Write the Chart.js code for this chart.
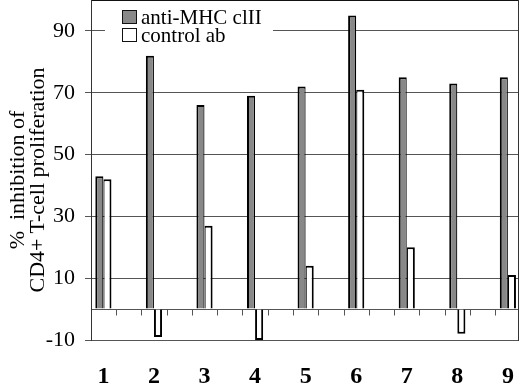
<!DOCTYPE html>
<html><head><meta charset="utf-8">
<script src="https://cdn.jsdelivr.net/npm/chart.js@4"></script>
<style>
html,body{margin:0;padding:0;background:#fff;}
#wrap{position:relative;width:520px;height:383px;overflow:hidden;}
canvas{position:absolute;left:0;top:0;}
#ytitle{position:absolute;left:-93px;top:160px;width:240px;height:40px;transform:rotate(-90deg);transform-origin:120px 20px;
  font-family:"Liberation Serif","Times New Roman",serif;font-size:22px;line-height:20px;text-align:center;color:#000;white-space:pre;}
#legend{position:absolute;left:105px;top:3px;width:168px;height:43px;background:#fff;font-family:"Liberation Serif","Times New Roman",serif;font-size:21px;line-height:21px;color:#000;}
.sw{position:absolute;width:15px;height:14px;box-sizing:border-box;border:1px solid #111;}
.lt{position:absolute;white-space:nowrap;}
</style></head><body>
<div id="wrap">
<canvas id="c" width="520" height="383"></canvas>
<div id="ytitle"></div>
<div id="legend"></div>
</div>
<script>
// ---- data ----
const categories = [1, 2, 3, 4, 5, 6, 7, 8, 9];
const categoryLabels = ['1', '2', '3', '4', '5', '6', '7', '8', '9'];
const antiMHC = [43, 82, 66, 69, 72, 95, 75, 73, 75];
const controlAb = [42, -9, 27, -10, 14, 71, 20, -8, 11];
const seriesNames = ['anti-MHC clII', 'control ab'];
const yTickValues = [-10, 0, 10, 30, 50, 70, 90, 100];
const yLabelValues = [-10, 10, 30, 50, 70, 90];
const zeroLineTicks = [1.25, 1.75, 2.25, 2.75, 3.25, 3.75, 4.25, 4.75, 5.25, 5.75, 6.25, 6.75, 7.25, 7.75, 8.25, 8.75];
const yTitleLines = ['%  inhibition of', 'CD4+ T-cell proliferation'];

const seriesColors = ['#888888', '#ffffff'];

document.getElementById('ytitle').textContent = yTitleLines.join('\n');
const lg = document.getElementById('legend');
seriesNames.forEach((n, i) => {
  const sw = document.createElement('div');
  sw.className = 'sw';
  sw.style.left = (122 - 105) + 'px';
  sw.style.top = (7 + i * 18) + 'px';
  sw.style.background = seriesColors[i];
  lg.appendChild(sw);
  const t = document.createElement('div');
  t.className = 'lt';
  t.style.left = (141 - 105) + 'px';
  t.style.top = (3.5 + i * 18) + 'px';
  t.textContent = n;
  lg.appendChild(t);
});

const zeroTicksPlugin = {
  id: 'zeroTicks',
  afterDatasetsDraw(chart) {
    const {ctx, scales: {x, y}} = chart;
    const y0 = Math.round(y.getPixelForValue(0)) + 0.5;
    ctx.save();
    ctx.strokeStyle = '#555';
    ctx.lineWidth = 1;
    ctx.beginPath();
    zeroLineTicks.forEach(v => {
      const px = Math.round(x.getPixelForValue(v)) + 0.5;
      ctx.moveTo(px, y0);
      ctx.lineTo(px, y0 + 6);
    });
    ctx.stroke();
    ctx.restore();
  }
};

const serif = "'Liberation Serif', 'Times New Roman', serif";

new Chart(document.getElementById('c'), {
  type: 'bar',
  data: {
    datasets: [
      {
        label: seriesNames[0],
        data: categories.map((c, i) => ({x: c, y: antiMHC[i]})),
        backgroundColor: seriesColors[0],
        borderColor: '#000',
        borderWidth: {top: 2, left: 2, right: 1.2, bottom: 0},
        categoryPercentage: 0.32,
        barPercentage: 1
      },
      {
        label: seriesNames[1],
        data: categories.map((c, i) => ({x: c, y: controlAb[i]})),
        backgroundColor: seriesColors[1],
        borderColor: '#000',
        borderWidth: (ctx) => (ctx.parsed && ctx.parsed.y < 0)
          ? {top: 0, left: 2, right: 2, bottom: 2}
          : {top: 2, left: 1.2, right: 2, bottom: 0},
        categoryPercentage: 0.32,
        barPercentage: 1
      }
    ]
  },
  options: {
    responsive: false,
    animation: false,
    devicePixelRatio: 1,
    layout: {padding: {left: 0, right: 1.5, top: 0, bottom: 0}},
    plugins: {legend: {display: false}, tooltip: {enabled: false}},
    scales: {
      x: {
        type: 'linear',
        min: 0.755,
        max: 9.21,
        offset: false,
        afterBuildTicks: (s) => { s.ticks = categories.map(v => ({value: v})); },
        afterFit: (s) => { s.height = 43; s.paddingLeft = 0; s.paddingRight = 0; },
        grid: {display: false, drawTicks: false, offset: false},
        border: {display: true, color: '#555', width: 1},
        ticks: {
          autoSkip: false,
          maxRotation: 0,
          padding: 22,
          color: '#000',
          font: {family: serif, size: 24, weight: 'bold'},
          callback: (v) => categoryLabels[categories.indexOf(v)]
        }
      },
      y: {
        min: -10,
        max: 100,
        afterBuildTicks: (s) => { s.ticks = yTickValues.map(v => ({value: v})); },
        afterFit: (s) => { s.width = 91; s.paddingTop = 0; s.paddingBottom = 0; },
        grid: {
          color: (c) => (c.tick && c.tick.value === 100) ? '#111' : '#555',
          lineWidth: 1,
          tickLength: 6,
          tickColor: (c) => (c.tick && (c.tick.value === 0 || c.tick.value === 100)) ? 'rgba(0,0,0,0)' : '#555'
        },
        border: {display: true, color: '#333', width: 1},
        ticks: {
          padding: 10,
          color: '#000',
          font: {family: serif, size: 22},
          callback: (v) => yLabelValues.includes(v) ? String(v) : ''
        }
      },
      y2: {
        position: 'right',
        min: -10,
        max: 100,
        grid: {display: false, drawTicks: false},
        ticks: {display: false},
        border: {display: true, color: '#333', width: 1},
        afterFit: (s) => { s.width = 0; s.paddingTop = 0; s.paddingBottom = 0; }
      }
    }
  },
  plugins: [zeroTicksPlugin]
});
</script>
</body></html>
